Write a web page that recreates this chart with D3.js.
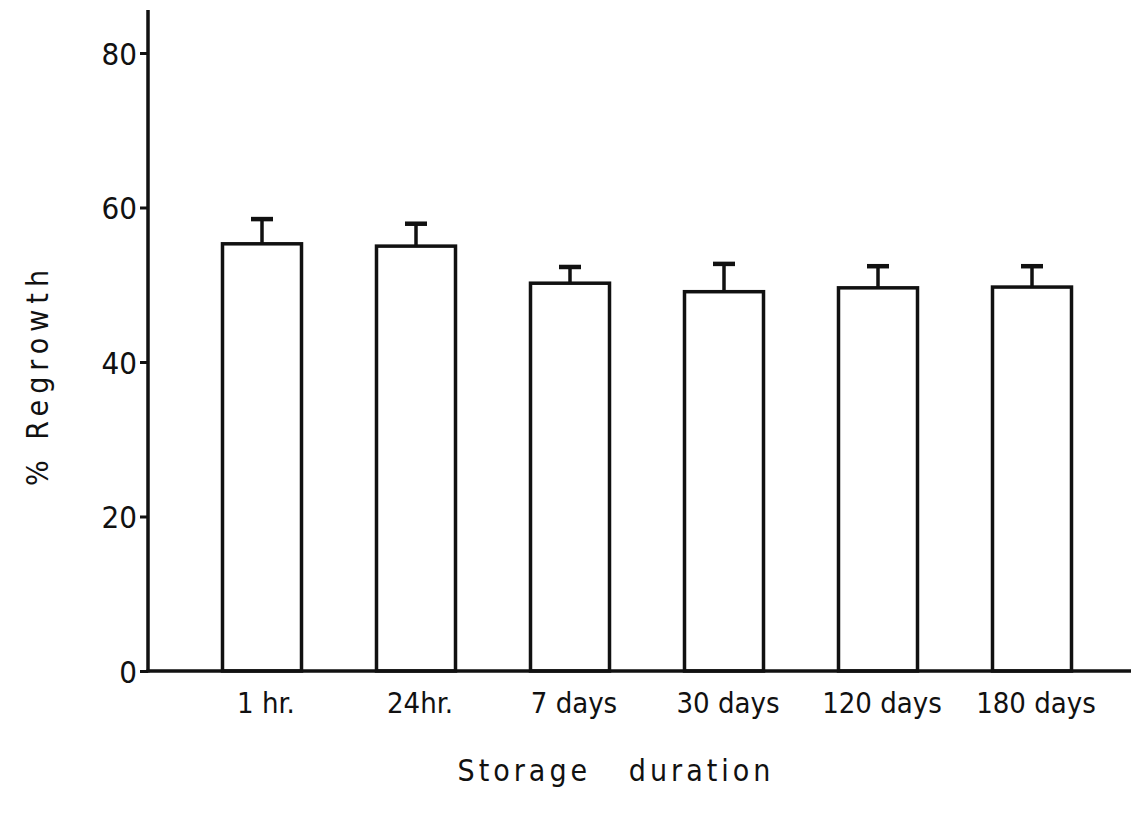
<!DOCTYPE html>
<html>
<head>
<meta charset="utf-8">
<script src="https://cdn.jsdelivr.net/npm/d3@7"></script>
<style>
  body { margin: 0; background: #fff; }
  text { font-family: "DejaVu Sans Condensed", "DejaVu Sans", sans-serif; fill: #111; }
</style>
</head>
<body>
<svg id="barChart"></svg>
<script>
// Chart data
const durations = ["1 hr.", "24hr.", "7 days", "30 days", "120 days", "180 days"];
const regrowth = [55.3, 55.0, 50.2, 49.1, 49.6, 49.7];
const errors = [3.2, 2.9, 2.1, 3.6, 2.8, 2.7];
const yTicks = [0, 20, 40, 60, 80];

const width = 1131;
const height = 816;

const svg = d3.select("#barChart")
    .attr("width", width)
    .attr("height", height);

// Scales
const x = d3.scaleBand()
    .domain(durations)
    .range([186, 1108])
    .paddingInner(0.487)
    .paddingOuter(0.237);

const y = d3.scaleLinear()
    .domain([0, 80])
    .range([671, 53]);

const x0 = 148;

// Y axis
const yAxis = d3.axisLeft(y)
    .tickValues(yTicks)
    .tickSize(8)
    .tickPadding(3);

const gy = svg.append("g")
    .attr("transform", `translate(${x0},0)`)
    .call(yAxis);
gy.select(".domain").remove();
gy.selectAll(".tick line").attr("stroke", "#111").attr("stroke-width", 3);
gy.selectAll(".tick text")
    .attr("font-size", 31)
    .attr("dy", "0.36em");

svg.append("line")
    .attr("x1", x0).attr("x2", x0)
    .attr("y1", 10).attr("y2", y(0) + 1.5)
    .attr("stroke", "#111")
    .attr("stroke-width", 3.5);

// Bars
const data = durations.map((d, i) => ({ label: d, value: regrowth[i], err: errors[i] }));

svg.selectAll(".bar")
    .data(data)
    .enter()
    .append("rect")
    .attr("class", "bar")
    .attr("x", d => x(d.label))
    .attr("y", d => y(d.value))
    .attr("width", x.bandwidth())
    .attr("height", d => y(0) - y(d.value))
    .attr("fill", "#fff")
    .attr("stroke", "#111")
    .attr("stroke-width", 3.5);

// Error bars
const eb = svg.selectAll(".err")
    .data(data)
    .enter()
    .append("g")
    .attr("class", "err")
    .attr("stroke", "#111")
    .attr("stroke-width", 3.5);

eb.append("line")
    .attr("x1", d => x(d.label) + x.bandwidth() / 2)
    .attr("x2", d => x(d.label) + x.bandwidth() / 2)
    .attr("y1", d => y(d.value))
    .attr("y2", d => y(d.value + d.err));

eb.append("line")
    .attr("x1", d => x(d.label) + x.bandwidth() / 2 - 11)
    .attr("x2", d => x(d.label) + x.bandwidth() / 2 + 11)
    .attr("y1", d => y(d.value + d.err))
    .attr("y2", d => y(d.value + d.err))
    .attr("stroke-width", 4.5);

// X axis line
svg.append("line")
    .attr("x1", x0 - 1.5).attr("x2", width)
    .attr("y1", y(0)).attr("y2", y(0))
    .attr("stroke", "#111")
    .attr("stroke-width", 3.5);

// X labels
svg.selectAll(".xlabel")
    .data(durations)
    .enter()
    .append("text")
    .attr("class", "xlabel")
    .attr("x", d => x(d) + x.bandwidth() / 2 + 4)
    .attr("y", 713)
    .attr("text-anchor", "middle")
    .attr("font-size", 29)
    .text(d => d);

// Axis titles
svg.append("text")
    .attr("x", 616)
    .attr("y", 781)
    .attr("text-anchor", "middle")
    .attr("font-size", 30)
    .attr("font-family", "DejaVu Sans, sans-serif")
    .style("letter-spacing", "4px")
    .attr("xml:space", "preserve")
    .text("Storage   duration");

svg.append("text")
    .attr("transform", "translate(48,375) rotate(-90)")
    .attr("text-anchor", "middle")
    .attr("font-size", 30)
    .attr("font-family", "DejaVu Sans, sans-serif")
    .style("letter-spacing", "6px")
    .text("% Regrowth");
</script>
</body>
</html>
